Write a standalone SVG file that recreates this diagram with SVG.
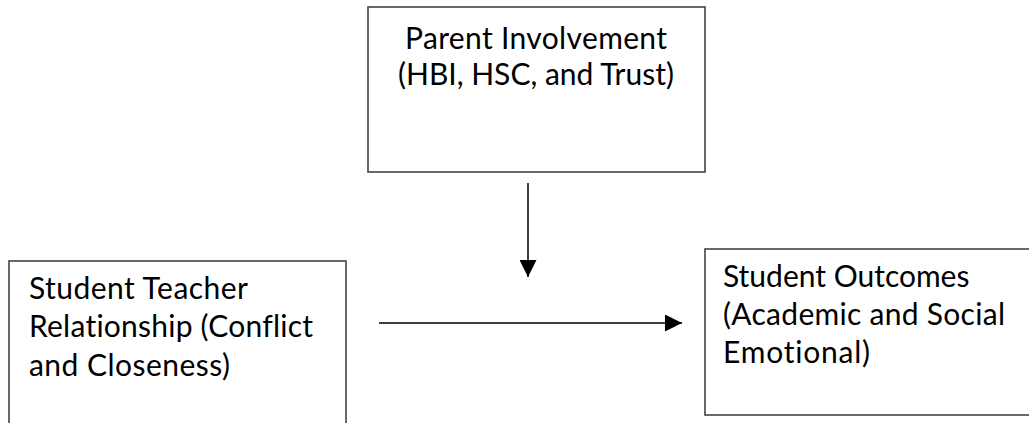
<svg xmlns="http://www.w3.org/2000/svg" width="1029" height="423" viewBox="0 0 1029 423">
<style>
.box{fill:#fff;stroke:#444;stroke-width:1.6}
.t{font-family:Lato,"Liberation Sans",sans-serif;fill:#000;font-variant-ligatures:none}
.big{font-size:30px}
.mid{font-size:30px}
.conn{stroke:#000;stroke-width:1.5;fill:none}
</style>
<defs>
<marker id="ah" markerUnits="userSpaceOnUse" markerWidth="17" markerHeight="17" viewBox="0 0 16 16" refX="16" refY="8" orient="auto">
<path d="M0,0 L16,8 L0,16 Z" fill="#000"/>
</marker>
</defs>
<rect width="1029" height="423" fill="#fff"/>
<g id="parent">
<rect class="box" x="368" y="7" width="337" height="165"/>
<text class="t big" x="536" y="49" text-anchor="middle" textLength="262">Parent Involvement</text>
<text class="t big" x="536" y="85" text-anchor="middle" textLength="276">(HBI, HSC, and Trust)</text>
</g>
<g id="str">
<rect class="box" x="9" y="261" width="337" height="180"/>
<text class="t mid" x="29" y="299" textLength="219">Student Teacher</text>
<text class="t mid" x="29" y="337" textLength="284">Relationship (Conflict</text>
<text class="t mid" x="29" y="376" textLength="201">and Closeness)</text>
</g>
<g id="outcomes">
<rect class="box" x="705" y="249" width="340" height="166"/>
<text class="t mid" x="723" y="287">Student Outcomes</text>
<text class="t mid" x="723" y="325" textLength="282">(Academic and Social</text>
<text class="t mid" x="723" y="363" textLength="147">Emotional)</text>
</g>
<g id="connectors">
<line class="conn" x1="528" y1="183" x2="528" y2="277" marker-end="url(#ah)"/>
<line class="conn" x1="379" y1="323" x2="682" y2="323" marker-end="url(#ah)"/>
</g>
</svg>
